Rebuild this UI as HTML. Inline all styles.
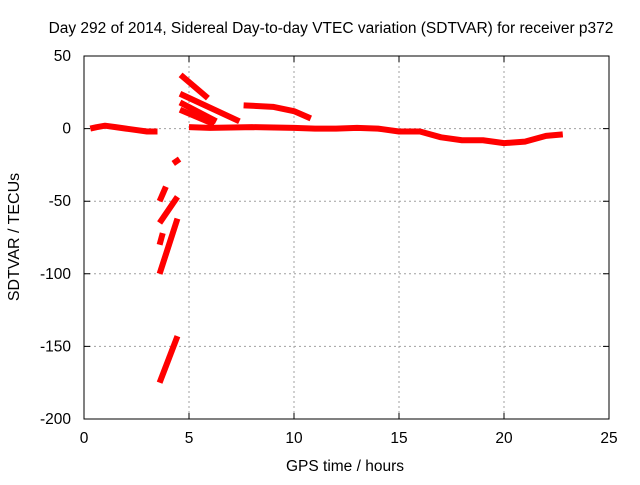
<!DOCTYPE html>
<html><head><meta charset="utf-8"><style>
body{margin:0;background:#fff}
svg text{font-family:"Liberation Sans",sans-serif;font-size:15.5px;fill:#000}
</style></head><body>
<svg width="640" height="480" xmlns="http://www.w3.org/2000/svg">
<rect width="640" height="480" fill="#fff"/>
<g id="grid"></g>
<g id="ticks"></g>
<g id="series"></g>
<rect x="84" y="56" width="525" height="363" fill="none" stroke="#000" stroke-width="1"/>
<text x="331" y="33" text-anchor="middle">Day 292 of 2014, Sidereal Day-to-day VTEC variation (SDTVAR) for receiver p372</text>
<text x="345" y="471" text-anchor="middle">GPS time / hours</text>
<text transform="translate(19,237) rotate(-90)" text-anchor="middle" style="font-size:16px">SDTVAR / TECUs</text>
</svg>
<script>
const xTicks=[0,5,10,15,20,25];
const yTicks=[50,0,-50,-100,-150,-200];
const segBaseline=[[0.3,0],[0.6,1],[1,2],[1.5,1],[2,0],[2.5,-1],[3,-2],[3.5,-2]];
const segMain=[[5,1],[6,0.5],[8,1],[10,0.5],[11,0],[12,0],[13,0.5],[14,0],[15,-2],[16,-2],[17,-6],[18,-8],[19,-8],[20,-10],[21,-9],[22,-5],[22.8,-4]];
const segDiag1=[[4.6,37],[5.9,21]];
const segDiag2=[[4.57,24],[7.4,5]];
const segDiag3=[[4.57,18],[6.3,5]];
const segDiag4=[[4.57,13],[6.2,3]];
const segArc=[[7.6,16],[9,15],[10,12],[10.8,7]];
const segNeg1=[[4.25,-24],[4.55,-21]];
const segNeg2=[[3.6,-50],[3.9,-40]];
const segNeg3=[[3.6,-65],[4.45,-47]];
const segNeg4=[[3.6,-80],[3.75,-72]];
const segNeg5=[[3.6,-100],[4.45,-62]];
const segNeg6=[[3.6,-175],[4.45,-143]];
const allSegs=[segBaseline,segMain,segDiag1,segDiag2,segDiag3,segDiag4,segArc,segNeg1,segNeg2,segNeg3,segNeg4,segNeg5,segNeg6];
const X=h=>84+h*525/25;
const Y=v=>56+(50-v)*363/250;
const NS='http://www.w3.org/2000/svg';
function mk(t,a){const e=document.createElementNS(NS,t);for(const k in a)e.setAttribute(k,a[k]);return e;}
const grid=document.getElementById('grid'),ticks=document.getElementById('ticks'),ser=document.getElementById('series');
xTicks.forEach(t=>{const x=X(t);
 if(t>0&&t<25){const g=mk('line',{x1:x,x2:x,y1:56,y2:419,stroke:'#a0a0a0','stroke-dasharray':'2,3'});grid.appendChild(g);}
 const tk=mk('path',{d:`M${x},419v-6M${x},56v6`,stroke:'#000'});ticks.appendChild(tk);
 const l=mk('text',{x:x,y:443,'text-anchor':'middle'});l.textContent=t;ticks.appendChild(l);});
yTicks.forEach(t=>{const y=Y(t);
 if(t<50&&t>-200){const g=mk('line',{x1:84,x2:609,y1:y,y2:y,stroke:'#a0a0a0','stroke-dasharray':'2,3'});grid.appendChild(g);}
 const tk=mk('path',{d:`M84,${y}h6M609,${y}h-6`,stroke:'#000'});ticks.appendChild(tk);
 const l=mk('text',{x:71,y:y+5,'text-anchor':'end'});l.textContent=t;ticks.appendChild(l);});
allSegs.forEach(s=>{const p=mk('polyline',{points:s.map(d=>X(d[0])+','+Y(d[1])).join(' '),fill:'none',stroke:'#f00','stroke-width':6,'stroke-linejoin':'round'});
 
 
 ser.appendChild(p);});
</script>
</body></html>
